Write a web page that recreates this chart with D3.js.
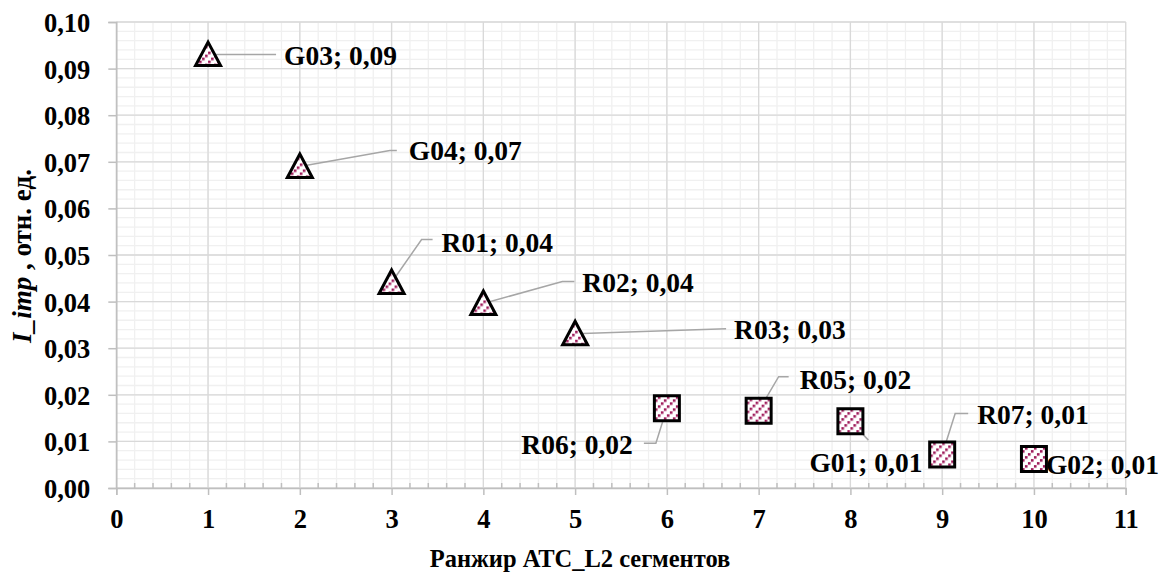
<!DOCTYPE html>
<html>
<head>
<meta charset="utf-8">
<script src="https://cdn.jsdelivr.net/npm/d3@7"></script>
<style>
  body { margin: 0; background: #fff; }
  text { font-family: "Liberation Serif", "Times New Roman", serif; font-weight: bold; }
</style>
</head>
<body>
<div id="chart"></div>
<script>
// segment names, rank and value
var names = ["G03", "G04", "R01", "R02", "R03", "R06", "R05", "G01", "R07", "G02"];
var ranks = [1, 2, 3, 4, 5, 6, 7, 8, 9, 10];
var values = [0.093, 0.069, 0.0441, 0.0396, 0.0331, 0.0171, 0.0166, 0.01435, 0.0072, 0.0062];
var shapes = ["tri", "tri", "tri", "tri", "tri", "sq", "sq", "sq", "sq", "sq"];
var labels = ["G03; 0,09", "G04; 0,07", "R01; 0,04", "R02; 0,04", "R03; 0,03",
              "R06; 0,02", "R05; 0,02", "G01; 0,01", "R07; 0,01", "G02; 0,01"];
var xTicks = [0, 1, 2, 3, 4, 5, 6, 7, 8, 9, 10, 11];
var yTicks = [0, 0.01, 0.02, 0.03, 0.04, 0.05, 0.06, 0.07, 0.08, 0.09, 0.10];

// label layout: text anchor offset from point (px), anchor side, leader elbow
var labelPos = [
  { dx: 76, dy: 0, anchor: "start", leader: [[62, 0], [68, 0]] },
  { dx: 109, dy: -16, anchor: "start", leader: [[90, -16], [97, -16]] },
  { dx: 50, dy: -40, anchor: "start", leader: [[30, -43], [41, -43]] },
  { dx: 99, dy: -21, anchor: "start", leader: [[79, -22], [91, -22]] },
  { dx: 159, dy: -5, anchor: "start", leader: [[151, -5], [151, -5]] },
  { dx: -34, dy: 36, anchor: "end", leader: [[-11, 35], [-23, 35]] },
  { dx: 41, dy: -32, anchor: "start", leader: [[20, -34], [30, -34]] },
  { dx: -41, dy: 41, anchor: "start", leader: [[18, 19], [18, 19]] },
  { dx: 35, dy: -40, anchor: "start", leader: [[13, -41], [26, -41]] },
  { dx: 12, dy: 5, anchor: "start", leader: null }
];

var W = 1167, H = 575;
var pLeft = 116.3, pRight = 1125.7, pTop = 22, pBottom = 488;

var svg = d3.select("#chart").append("svg")
  .attr("width", W).attr("height", H);

// dotted upward diagonal hatch
var defs = svg.append("defs");
var pat = defs.append("pattern")
  .attr("id", "hatch")
  .attr("patternUnits", "userSpaceOnUse")
  .attr("width", 9).attr("height", 9);
pat.append("rect").attr("width", 9).attr("height", 9).attr("fill", "#fff");
pat.selectAll("rect.dot").data([[0, 6], [3, 3], [6, 0]]).join("rect")
  .attr("class", "dot")
  .attr("x", d => d[0]).attr("y", d => d[1])
  .attr("width", 2.6).attr("height", 2.6)
  .attr("fill", "#9e1a5a");

var x = d3.scaleLinear().domain([0, 11]).range([pLeft, pRight]);
var y = d3.scaleLinear().domain([0, 0.10]).range([pBottom, pTop]);

// minor grid
var xMinor = d3.range(0, 11.001, 0.2);
var yMinor = d3.range(0, 0.1001, 0.002);
svg.append("g").selectAll("line").data(xMinor).join("line")
  .attr("x1", d => x(d)).attr("x2", d => x(d))
  .attr("y1", pTop).attr("y2", pBottom)
  .attr("stroke", "#f0f0f0").attr("stroke-width", 1.3);
svg.append("g").selectAll("line").data(yMinor).join("line")
  .attr("x1", pLeft).attr("x2", pRight)
  .attr("y1", d => y(d)).attr("y2", d => y(d))
  .attr("stroke", "#f0f0f0").attr("stroke-width", 1.3);

// major grid
svg.append("g").selectAll("line").data(xTicks).join("line")
  .attr("x1", d => x(d)).attr("x2", d => x(d))
  .attr("y1", pTop).attr("y2", pBottom)
  .attr("stroke", "#d9d9d9").attr("stroke-width", 1.3);
svg.append("g").selectAll("line").data(yTicks).join("line")
  .attr("x1", pLeft).attr("x2", pRight)
  .attr("y1", d => y(d)).attr("y2", d => y(d))
  .attr("stroke", "#d9d9d9").attr("stroke-width", 1.3);

// axes
var fmt = d3.format(".2f");
var xAxis = svg.append("g")
  .attr("transform", "translate(0," + pBottom + ")")
  .call(d3.axisBottom(x).tickValues(xTicks).tickSize(7).tickPadding(14));
var yAxis = svg.append("g")
  .attr("transform", "translate(" + pLeft + ",0)")
  .call(d3.axisLeft(y).tickValues(yTicks).tickSize(8).tickPadding(18)
    .tickFormat(d => fmt(d).replace(".", ",")));
[xAxis, yAxis].forEach(function (a) {
  a.select(".domain").attr("stroke", "#bfbfbf").attr("stroke-width", 1.5);
  a.selectAll(".tick line").attr("stroke", "#bfbfbf").attr("stroke-width", 1.5);
  a.selectAll(".tick text").attr("fill", "#000")
    .style("font-family", "Liberation Serif").style("font-weight", "bold")
    .style("font-size", "26.5px");
});
yAxis.selectAll(".tick text").attr("dy", "0.36em");

// minor ticks on x axis
svg.append("g").selectAll("line").data(xMinor.filter(d => Math.abs(d - Math.round(d)) > 1e-6)).join("line")
  .attr("x1", d => x(d)).attr("x2", d => x(d))
  .attr("y1", pBottom - 5).attr("y2", pBottom)
  .attr("stroke", "#bfbfbf").attr("stroke-width", 1.5);

// axis titles
svg.append("text")
  .attr("x", 580).attr("y", 567)
  .attr("text-anchor", "middle")
  .style("font-size", "24.5px")
  .text("Ранжир АТС_L2 сегментов");

var yt = svg.append("text")
  .attr("transform", "translate(31,256) rotate(-90)")
  .attr("text-anchor", "middle")
  .style("font-size", "27px");
yt.append("tspan").style("font-style", "italic").text("I_imp");
yt.append("tspan").text(" , отн. ед.");

// leader lines
var pts = ranks.map(function (r, i) { return { x: x(r), y: y(values[i]), i: i }; });
svg.append("g").selectAll("path").data(pts.filter(p => labelPos[p.i].leader)).join("path")
  .attr("fill", "none").attr("stroke", "#a6a6a6").attr("stroke-width", 1.5)
  .attr("d", function (p) {
    var l = labelPos[p.i].leader;
    return "M" + p.x + "," + p.y + "L" + (p.x + l[0][0]) + "," + (p.y + l[0][1]) +
      "L" + (p.x + l[1][0]) + "," + (p.y + l[1][1]);
  });

// markers
var tri = "M0,-12.5L12.5,11L-12.5,11Z";
var sq = "M-12.5,-12.5H12.5V12.5H-12.5Z";
svg.append("g").selectAll("path").data(pts).join("path")
  .attr("transform", p => "translate(" + p.x + "," + p.y + ")")
  .attr("d", p => shapes[p.i] === "tri" ? tri : sq)
  .attr("fill", "url(#hatch)")
  .attr("stroke", "#000").attr("stroke-width", 3)
  .attr("stroke-linejoin", "miter");

// data labels
svg.append("g").selectAll("text").data(pts).join("text")
  .attr("x", p => p.x + labelPos[p.i].dx)
  .attr("y", p => p.y + labelPos[p.i].dy)
  .attr("dy", "0.36em")
  .attr("text-anchor", p => labelPos[p.i].anchor)
  .style("font-size", "27.5px")
  .text(p => labels[p.i]);
</script>
</body>
</html>
